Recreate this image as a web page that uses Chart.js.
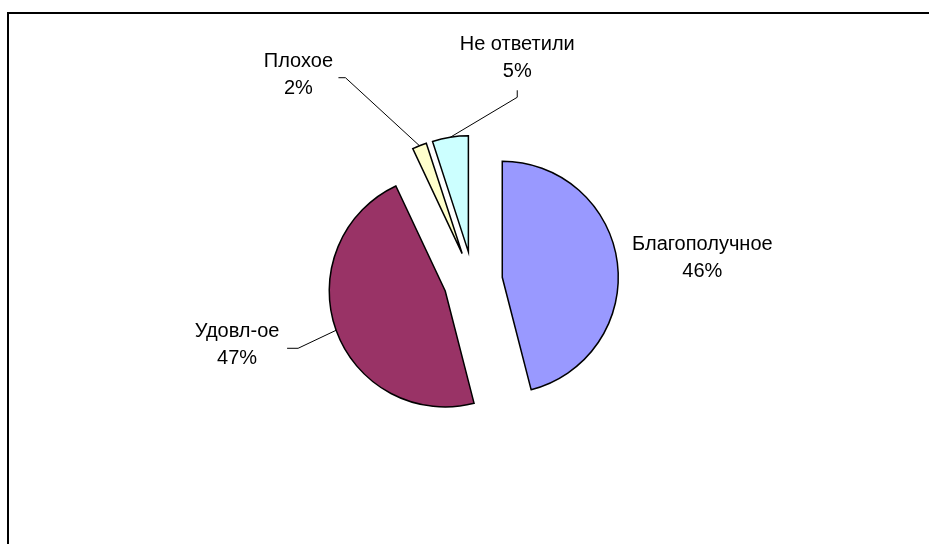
<!DOCTYPE html>
<html lang="ru">
<head>
    <meta charset="UTF-8">
    <title>Состояние</title>
    <script src="https://cdn.jsdelivr.net/npm/chart.js"></script>
    <style>
        body {
            margin: 0;
            background: #fff;
            overflow: hidden;
        }

        .frame {
            position: absolute;
            left: 7px;
            top: 12px;
            width: 1000px;
            height: 1000px;
            border: 2px solid #000;
        }

        #pie {
            position: absolute;
            left: 0;
            top: 0;
        }
    </style>
</head>
<body>
    <div class="frame"></div>
    <canvas id="pie" width="929" height="544"></canvas>

<script>
// данные
const labels = ['Благополучное', 'Удовл-ое', 'Плохое', 'Не ответили'];
const values = [46, 47, 2, 5];
const colors = ['#9999FF', '#993366', '#FFFFCC', '#CCFFFF'];

// где стоят подписи (смещение от внешней точки сектора) и выноски
const labelShift = [[85, -5], [-99, 15], [-121, -71], [67, -79]];
const leaders = [
    null,
    [[61, 3], [50, 3]],
    [[47, 3], [40, 3]],
    [[0, 39], [0, 32]]
];
const EXPLODE = 29.5;
const FONT = '20px "Liberation Sans", Arial, sans-serif';
const LINE_H = 27;

// рисуем сектора со сдвигом наружу (как "разрезанная" диаграмма в Excel)
const explodePlugin = {
    id: 'explode',
    beforeDatasetDraw(chart, args) {
        const ctx = chart.ctx;
        args.meta.data.forEach(arc => {
            const mid = (arc.startAngle + arc.endAngle) / 2;
            ctx.save();
            ctx.translate(Math.cos(mid) * EXPLODE, Math.sin(mid) * EXPLODE);
            arc.draw(ctx, chart.chartArea);
            ctx.restore();
        });
        return false;
    }
};

// подписи с процентами и выносками
const labelPlugin = {
    id: 'pieLabels',
    afterDraw(chart) {
        const ctx = chart.ctx;
        const meta = chart.getDatasetMeta(0);
        const total = values.reduce((a, b) => a + b, 0);
        ctx.save();
        ctx.font = FONT;
        ctx.fillStyle = '#000';
        ctx.strokeStyle = '#000';
        ctx.lineWidth = 1;
        ctx.textAlign = 'center';
        ctx.textBaseline = 'middle';
        meta.data.forEach((arc, i) => {
            const mid = (arc.startAngle + arc.endAngle) / 2;
            const r = arc.outerRadius + EXPLODE;
            const px = arc.x + Math.cos(mid) * r;
            const py = arc.y + Math.sin(mid) * r;
            const cx = px + labelShift[i][0];
            const cy = py + labelShift[i][1];
            const pct = Math.round(values[i] / total * 100) + '%';
            ctx.fillText(labels[i], cx, cy - LINE_H / 2);
            ctx.fillText(pct, cx, cy + LINE_H / 2);
            const l = leaders[i];
            if (l) {
                ctx.beginPath();
                ctx.moveTo(px, py);
                ctx.lineTo(cx + l[0][0], cy + l[0][1]);
                ctx.lineTo(cx + l[1][0], cy + l[1][1]);
                ctx.stroke();
            }
        });
        ctx.restore();
    }
};

new Chart(document.getElementById('pie'), {
    type: 'pie',
    data: {
        labels: labels,
        datasets: [{
            data: values,
            backgroundColor: colors,
            borderColor: '#000',
            borderWidth: 1.5,
            borderJoinStyle: 'miter'
        }]
    },
    options: {
        responsive: false,
        animation: false,
        radius: 116,
        layout: {
            padding: { left: 117, right: 100, top: 68, bottom: 50 }
        },
        plugins: {
            legend: { display: false },
            tooltip: { enabled: false }
        }
    },
    plugins: [explodePlugin, labelPlugin]
});
</script>
</body>
</html>
